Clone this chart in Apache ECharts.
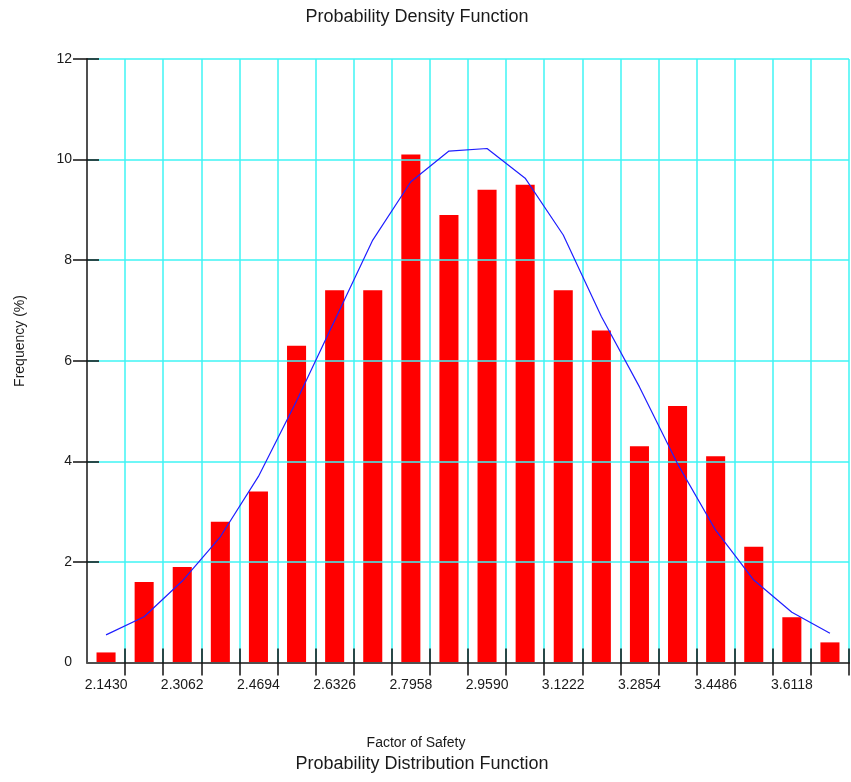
<!DOCTYPE html>
<html>
<head>
<meta charset="utf-8">
<title>Probability Density Function</title>
<script src="https://cdn.jsdelivr.net/npm/echarts@6/dist/echarts.min.js"></script>
<style>
  html, body { margin: 0; padding: 0; background: #ffffff; }
  #chart { width: 851px; height: 782px; }
</style>
</head>
<body>
<div id="chart"></div>
<script>
// Histogram of the factor of safety (20 bins, % of samples per bin)
const frequency = [0.2, 1.6, 1.9, 2.8, 3.4, 6.3, 7.4, 7.4, 10.1, 8.9,
                   9.4, 9.5, 7.4, 6.6, 4.3, 5.1, 4.1, 2.3, 0.9, 0.4];

// Fitted density curve evaluated at each bin centre (%)
const density = [0.55, 0.91, 1.62, 2.5, 3.7, 5.2, 6.8, 8.4, 9.56, 10.17,
                 10.22, 9.63, 8.5, 6.88, 5.48, 3.95, 2.63, 1.64, 1.0, 0.58];

// Labels shown under every second bin centre
const xTickLabels = ['2.1430', '2.3062', '2.4694', '2.6326', '2.7958',
                     '2.9590', '3.1222', '3.2854', '3.4486', '3.6118'];

const yTicks = [2, 4, 6, 8, 10, 12];

const FONT = "'Liberation Sans', Arial, sans-serif";
const TEXT = '#1a1a1a';
const AXIS = '#505050';
const GRIDC = '#3ff5f5';

const binIds = frequency.map((_, i) => String(i));
const binLabel = (v, i) => (i % 2 === 0 ? xTickLabels[i / 2] : '');

const chart = echarts.init(document.getElementById('chart'), null, { renderer: 'canvas' });

chart.setOption({
  backgroundColor: '#ffffff',
  animation: false,
  grid: { left: 87, right: 2, top: 59, bottom: 119.5, containLabel: false },
  xAxis: [
    {
      type: 'category',
      data: binIds,
      boundaryGap: true,
      axisLine: { show: true, lineStyle: { color: AXIS, width: 2 } },
      axisTick: {
        show: true, length: 13, interval: (i) => i !== 0,
        lineStyle: { color: '#111', width: 1.5 }
      },
      axisLabel: {
        interval: 0, margin: 16, formatter: binLabel,
        color: TEXT, fontFamily: FONT, fontSize: 14
      },
      splitLine: { show: true, interval: 0, lineStyle: { color: GRIDC, width: 1.5 } },
      z: 3
    },
    {
      type: 'category',
      data: binIds,
      boundaryGap: true,
      position: 'bottom',
      axisLine: { show: false },
      axisTick: {
        show: true, inside: true, length: 14, interval: (i) => i !== 0,
        lineStyle: { color: '#111', width: 1.5 }
      },
      axisLabel: { show: false },
      splitLine: { show: false },
      z: 3
    }
  ],
  yAxis: [
    {
      type: 'value',
      min: 0, max: 12, interval: 2,
      axisLine: { show: true, lineStyle: { color: AXIS, width: 2 } },
      axisTick: { show: true, length: 14, customValues: yTicks, lineStyle: { color: '#111', width: 1.5 } },
      axisLabel: { margin: 15, color: TEXT, fontFamily: FONT, fontSize: 14 },
      splitLine: { show: true, lineStyle: { color: GRIDC, width: 1.5 } },
      z: 3
    },
    {
      type: 'value',
      min: 0, max: 12, interval: 2,
      position: 'left',
      axisLine: { show: false },
      axisTick: { show: true, inside: true, length: 12, customValues: yTicks, lineStyle: { color: '#111', width: 1.5 } },
      axisLabel: { show: false },
      splitLine: { show: false },
      z: 3
    }
  ],
  series: [
    {
      name: 'Frequency',
      type: 'bar',
      data: frequency,
      barWidth: '50%',
      itemStyle: { color: '#ff0000' },
      z: 2
    },
    {
      name: 'Density',
      type: 'line',
      data: density,
      showSymbol: false,
      symbol: 'none',
      smooth: false,
      lineStyle: { color: '#1f1fff', width: 1.2 },
      z: 4
    }
  ],
  graphic: [
    {
      type: 'text', x: 417, y: 17,
      style: { text: 'Probability Density Function', font: '18px ' + FONT, fill: TEXT, align: 'center', verticalAlign: 'middle' }
    },
    {
      type: 'text', x: 20, y: 341, rotation: Math.PI / 2,
      style: { text: 'Frequency (%)', font: '14px ' + FONT, fill: TEXT, align: 'center', verticalAlign: 'middle' }
    },
    {
      type: 'text', x: 416, y: 743,
      style: { text: 'Factor of Safety', font: '14px ' + FONT, fill: TEXT, align: 'center', verticalAlign: 'middle' }
    },
    {
      type: 'text', x: 422, y: 764,
      style: { text: 'Probability Distribution Function', font: '18px ' + FONT, fill: TEXT, align: 'center', verticalAlign: 'middle' }
    }
  ]
});
</script>
</body>
</html>
